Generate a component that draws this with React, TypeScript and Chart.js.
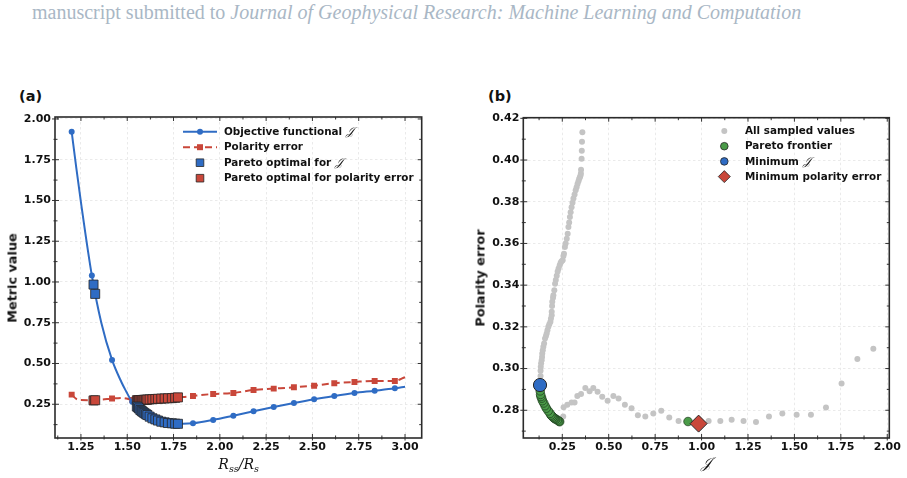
import React, { useEffect, useRef } from 'react';
import { Chart, registerables } from 'chart.js';

Chart.register(...registerables);

// ---------------- Panel (a): metrics versus Rss/Rs ----------------
const ratioX = [1.2, 1.225, 1.25, 1.309, 1.36, 1.418, 1.469, 1.496, 1.514, 1.527, 1.558, 1.6, 1.636, 1.69, 1.745, 1.8, 1.855, 1.964, 2.073, 2.182, 2.291, 2.4, 2.509, 2.618, 2.727, 2.836, 2.945, 3.0];
const objectiveJ = [1.922, 1.70, 1.49, 1.04, 0.75, 0.522, 0.385, 0.325, 0.287, 0.265, 0.234, 0.190, 0.164, 0.145, 0.134, 0.130, 0.133, 0.154, 0.180, 0.207, 0.233, 0.258, 0.281, 0.301, 0.319, 0.333, 0.348, 0.358];
const polarityErr = [0.309, 0.283, 0.276, 0.275, 0.278, 0.285, 0.289, 0.285, 0.280, 0.277, 0.2755, 0.2778, 0.281, 0.2855, 0.289, 0.294, 0.301, 0.313, 0.319, 0.338, 0.346, 0.354, 0.364, 0.379, 0.387, 0.393, 0.393, 0.416];
const markerX = [1.2, 1.309, 1.418, 1.527, 1.636, 1.745, 1.855, 1.964, 2.073, 2.182, 2.291, 2.4, 2.509, 2.618, 2.727, 2.836, 2.945];

const paretoRatio = [1.318, 1.327, 1.552, 1.558, 1.564, 1.571, 1.577, 1.582, 1.588, 1.594, 1.602, 1.609, 1.621, 1.636, 1.652, 1.666, 1.684, 1.702, 1.72, 1.741, 1.759, 1.774];
const paretoJ = [0.984, 0.927, 0.236, 0.231, 0.224, 0.215, 0.210, 0.205, 0.200, 0.195, 0.189, 0.184, 0.174, 0.164, 0.157, 0.150, 0.143, 0.139, 0.135, 0.133, 0.131, 0.130];
const paretoPol = [0.2736, 0.2746, 0.2745, 0.2748, 0.2753, 0.2757, 0.2760, 0.2763, 0.2767, 0.2772, 0.2777, 0.2785, 0.2797, 0.2810, 0.2822, 0.2835, 0.2846, 0.2858, 0.2866, 0.2876, 0.2893, 0.2921];

const xTicksA = [1.25, 1.5, 1.75, 2.0, 2.25, 2.5, 2.75, 3.0];
const yTicksA = [0.25, 0.5, 0.75, 1.0, 1.25, 1.5, 1.75, 2.0];

// ---------------- Panel (b): polarity error versus J ----------------
const sampledJ = [
  1.925, 1.839, 1.754, 1.670, 1.589, 1.512, 1.435, 1.363, 1.293, 1.226, 1.162, 1.101, 1.038, 0.876, 0.826, 0.783, 0.740, 0.697, 0.657, 0.623,
  0.587, 0.553, 0.525, 0.494, 0.465, 0.440, 0.417, 0.397, 0.374, 0.351, 0.331, 0.316, 0.300, 0.277, 0.257, 0.255,
  0.133, 0.133, 0.134, 0.136, 0.139, 0.141, 0.142, 0.145, 0.148, 0.152, 0.157, 0.162, 0.166, 0.170, 0.175, 0.180, 0.186, 0.189, 0.193, 0.193,
  0.195, 0.196, 0.200, 0.202, 0.207, 0.211, 0.215, 0.220, 0.225, 0.230, 0.236, 0.241, 0.246, 0.252, 0.256, 0.259, 0.264, 0.268, 0.274, 0.279,
  0.283, 0.287, 0.291, 0.295, 0.300, 0.305, 0.310, 0.316, 0.322, 0.327, 0.332, 0.337, 0.341, 0.345, 0.348, 0.350, 0.351, 0.354, 0.355, 0.356, 0.358,
];
const sampledPol = [
  0.3095, 0.3046, 0.2928, 0.2813, 0.2778, 0.2778, 0.2784, 0.2770, 0.2744, 0.2749, 0.2755, 0.2749, 0.2749, 0.2749, 0.2765, 0.2798, 0.2784, 0.2770, 0.2776, 0.2810,
  0.2827, 0.2857, 0.2869, 0.2846, 0.2865, 0.2889, 0.2907, 0.2891, 0.2907, 0.2878, 0.2869, 0.2837, 0.2837, 0.2827, 0.2814, 0.2770,
  0.2964, 0.2990, 0.3009, 0.3025, 0.3040, 0.3056, 0.3072, 0.3088, 0.3104, 0.3120, 0.3144, 0.3156, 0.3168, 0.3184, 0.3200, 0.3212, 0.3224, 0.3240, 0.3256, 0.3272,
  0.3300, 0.3320, 0.3340, 0.3352, 0.3376, 0.3407, 0.3425, 0.3445, 0.3465, 0.3480, 0.3495, 0.3508, 0.3515, 0.3520, 0.3540, 0.3551, 0.3583, 0.3600, 0.3623, 0.3647,
  0.3679, 0.3700, 0.3727, 0.3750, 0.3774, 0.3795, 0.3815, 0.3835, 0.3855, 0.3870, 0.3885, 0.3898, 0.3910, 0.3918, 0.3926, 0.3935, 0.3953, 0.4006, 0.4045, 0.4088, 0.4133,
];

const xTicksB = [0.25, 0.5, 0.75, 1.0, 1.25, 1.5, 1.75, 2.0];
const yTicksB = [0.28, 0.30, 0.32, 0.34, 0.36, 0.38, 0.40, 0.42];

// ---------------- styling ----------------
const BLUE = '#2f6cc4';
const RED = '#c9473a';
const GREEN = '#4a9b48';
const GRAY = '#c4c4c4';
const EDGE = '#262626';
const SANS = '"DejaVu Sans", sans-serif';
const MATH = '"DejaVu Serif", "DejaVu Sans", serif';

function drawMarker(ctx: CanvasRenderingContext2D, kind: string, x: number, y: number, size: number, fill: string, edge?: string, edgeW?: number) {
  ctx.beginPath();
  if (kind === 'circle') {
    ctx.arc(x, y, size, 0, Math.PI * 2);
  } else if (kind === 'rect') {
    ctx.rect(x - size, y - size, size * 2, size * 2);
  } else if (kind === 'diamond') {
    ctx.moveTo(x, y - size);
    ctx.lineTo(x + size, y);
    ctx.lineTo(x, y + size);
    ctx.lineTo(x - size, y);
    ctx.closePath();
  }
  ctx.fillStyle = fill;
  ctx.fill();
  if (edge && edgeW) {
    ctx.strokeStyle = edge;
    ctx.lineWidth = edgeW;
    ctx.setLineDash([]);
    ctx.stroke();
  }
}

const framePlugin = {
  id: 'mplFrame',
  afterDatasetsDraw(chart: any, _args: any, opts: any) {
    const { ctx, chartArea: a, scales } = chart;
    const sx = scales.x;
    const sy = scales.y;
    ctx.save();
    ctx.setLineDash([]);
    ctx.strokeStyle = '#333';
    ctx.lineWidth = 1;
    const seg = (x1: number, y1: number, x2: number, y2: number) => {
      ctx.beginPath();
      ctx.moveTo(x1, y1);
      ctx.lineTo(x2, y2);
      ctx.stroke();
    };
    const each = (min: number, max: number, minor: number, major: number, fn: (v: number, isMajor: boolean) => void) => {
      const n0 = Math.ceil(min / minor - 1e-9);
      const n1 = Math.floor(max / minor + 1e-9);
      for (let n = n0; n <= n1; n++) {
        const v = n * minor;
        const r = v / major;
        fn(v, Math.abs(r - Math.round(r)) < 1e-6);
      }
    };
    each(sx.min, sx.max, opts.xMinor, opts.xMajor, (v, M) => {
      const p = sx.getPixelForValue(v);
      const inL = M ? 4 : 2.5;
      const outL = M ? 2.5 : 1.5;
      seg(p, a.bottom + outL, p, a.bottom - inL);
      seg(p, a.top, p, a.top + inL);
    });
    each(sy.min, sy.max, opts.yMinor, opts.yMajor, (v, M) => {
      const p = sy.getPixelForValue(v);
      const inL = M ? 4 : 2.5;
      const outL = M ? 3 : 1.5;
      seg(a.left - outL, p, a.left + inL, p);
      seg(a.right, p, a.right - inL, p);
    });
    ctx.lineWidth = 1.6;
    ctx.strokeStyle = '#2b2b2b';
    ctx.strokeRect(a.left, a.top, a.right - a.left, a.bottom - a.top);
    ctx.restore();
  },
};

const legendPlugin = {
  id: 'mplLegend',
  afterDatasetsDraw(chart: any, _args: any, opts: any) {
    const { ctx, chartArea: a } = chart;
    const items = opts.items || [];
    ctx.save();
    for (let i = 0; i < items.length; i++) {
      const it = items[i];
      const y = a.top + opts.top + i * opts.spacing;
      const hx = a.left + opts.handleX;
      if (it.line) {
        ctx.strokeStyle = it.color;
        ctx.lineWidth = 2;
        ctx.setLineDash(it.dash ? [...it.dash] : []);
        ctx.beginPath();
        ctx.moveTo(hx - opts.handleLen / 2, y);
        ctx.lineTo(hx + opts.handleLen / 2, y);
        ctx.stroke();
        ctx.setLineDash([]);
      }
      drawMarker(ctx, it.marker, hx, y, it.size, it.color, it.edge, it.edgeW);
      ctx.fillStyle = '#111';
      ctx.textAlign = 'left';
      ctx.textBaseline = 'middle';
      ctx.font = `bold ${opts.fontSize}px ${SANS}`;
      const tx = a.left + opts.textX;
      ctx.fillText(it.text, tx, y + 0.5);
      if (it.math) {
        const w = ctx.measureText(it.text).width;
        ctx.font = `italic ${opts.fontSize + 1}px ${MATH}`;
        ctx.fillText(it.math, tx + w, y + 0.5);
      }
    }
    ctx.restore();
  },
};

function axis(min: number, max: number, ticks: number[], fixed: { width?: number; height?: number }, pad: number) {
  return {
    type: 'linear',
    min,
    max,
    afterBuildTicks: (s: any) => {
      s.ticks = ticks.map((v) => ({ value: v }));
    },
    afterFit: (s: any) => {
      if (fixed.width != null) s.width = fixed.width;
      if (fixed.height != null) s.height = fixed.height;
    },
    ticks: {
      callback: (v: any) => Number(v).toFixed(2),
      font: { family: SANS, size: 11, weight: 'bold' },
      color: '#111',
      padding: pad,
      maxRotation: 0,
      autoSkip: false,
    },
    grid: { color: '#e4e4e4', lineWidth: 0.8, drawTicks: false },
    border: { display: false, dash: [2.5, 2.5] },
  };
}

function pts(xs: number[], ys: number[]) {
  return xs.map((x, i) => ({ x, y: ys[i] }));
}

function argMin(arr: number[]) {
  let k = 0;
  for (let i = 1; i < arr.length; i++) if (arr[i] < arr[k]) k = i;
  return k;
}

function makeLeft(canvas: HTMLCanvasElement) {
  return new Chart(canvas, {
    type: 'scatter',
    data: {
      datasets: [
        {
          label: 'Pareto optimal for 𝒥',
          data: pts(paretoRatio, paretoJ),
          pointStyle: 'rect',
          pointRadius: 6.4,
          backgroundColor: BLUE,
          borderColor: EDGE,
          borderWidth: 0.8,
          order: 0,
        },
        {
          label: 'Pareto optimal for polarity error',
          data: pts(paretoRatio, paretoPol),
          pointStyle: 'rect',
          pointRadius: 6.4,
          backgroundColor: RED,
          borderColor: EDGE,
          borderWidth: 0.8,
          order: 1,
        },
        {
          label: 'Objective functional 𝒥',
          data: pts(ratioX, objectiveJ),
          showLine: true,
          borderColor: BLUE,
          borderWidth: 2,
          cubicInterpolationMode: 'monotone',
          pointStyle: 'circle',
          pointRadius: (c: any) => (markerX.includes(ratioX[c.dataIndex]) ? 3 : 0),
          pointBackgroundColor: BLUE,
          pointBorderWidth: 0,
          order: 2,
        },
        {
          label: 'Polarity error',
          data: pts(ratioX, polarityErr),
          showLine: true,
          borderColor: RED,
          borderWidth: 2,
          borderDash: [7, 4],
          cubicInterpolationMode: 'monotone',
          pointStyle: 'rect',
          pointRadius: (c: any) => (markerX.includes(ratioX[c.dataIndex]) ? 4.2 : 0),
          pointBackgroundColor: RED,
          pointBorderWidth: 0,
          order: 3,
        },
      ],
    } as any,
    options: {
      responsive: false,
      animation: false,
      devicePixelRatio: 1,
      events: [],
      layout: { padding: { left: 0, top: 17, right: 28.3, bottom: 0 } },
      plugins: {
        legend: { display: false },
        tooltip: { enabled: false },
        mplFrame: { xMajor: 0.25, xMinor: 0.125, yMajor: 0.25, yMinor: 0.125 },
        mplLegend: {
          top: 14.7,
          spacing: 15.5,
          handleX: 145,
          handleLen: 34,
          textX: 169,
          fontSize: 10.4,
          items: [
            { line: true, color: BLUE, marker: 'circle', size: 3, text: 'Objective functional ', math: '𝒥' },
            { line: true, color: RED, dash: [7, 4], marker: 'rect', size: 3, text: 'Polarity error' },
            { line: false, color: BLUE, marker: 'rect', size: 3.8, edge: EDGE, edgeW: 0.8, text: 'Pareto optimal for ', math: '𝒥' },
            { line: false, color: RED, marker: 'rect', size: 3.8, edge: EDGE, edgeW: 0.8, text: 'Pareto optimal for polarity error' },
          ],
        },
      },
      scales: {
        x: axis(1.11, 3.09, xTicksA, { height: 40 }, 3),
        y: axis(0.043, 2.012, yTicksA, { width: 55 }, 4),
      },
    } as any,
    plugins: [framePlugin, legendPlugin],
  });
}

function makeRight(canvas: HTMLCanvasElement) {
  const iMinJ = argMin(paretoJ);
  const iMinP = argMin(paretoPol);
  return new Chart(canvas, {
    type: 'scatter',
    data: {
      datasets: [
        {
          label: 'Minimum polarity error',
          data: [{ x: paretoJ[iMinP], y: paretoPol[iMinP] }],
          pointStyle: 'rectRot',
          pointRadius: 8.5,
          backgroundColor: RED,
          borderColor: EDGE,
          borderWidth: 1,
          order: 0,
        },
        {
          label: 'Minimum 𝒥',
          data: [{ x: paretoJ[iMinJ], y: paretoPol[iMinJ] }],
          pointStyle: 'circle',
          pointRadius: 6.6,
          backgroundColor: BLUE,
          borderColor: EDGE,
          borderWidth: 1,
          order: 1,
        },
        {
          label: 'Pareto frontier',
          data: pts(paretoJ, paretoPol),
          pointStyle: 'circle',
          pointRadius: 4.3,
          backgroundColor: GREEN,
          borderColor: '#1e3a1e',
          borderWidth: 0.7,
          order: 2,
        },
        {
          label: 'All sampled values',
          data: pts(sampledJ, sampledPol).concat(pts(paretoJ, paretoPol)),
          pointStyle: 'circle',
          pointRadius: 3,
          backgroundColor: GRAY,
          borderWidth: 0,
          order: 3,
        },
      ],
    } as any,
    options: {
      responsive: false,
      animation: false,
      devicePixelRatio: 1,
      events: [],
      layout: { padding: { left: 0, top: 17.7, right: 17.7, bottom: 0 } },
      plugins: {
        legend: { display: false },
        tooltip: { enabled: false },
        mplFrame: { xMajor: 0.25, xMinor: 0.125, yMajor: 0.02, yMinor: 0.01 },
        mplLegend: {
          top: 13.3,
          spacing: 15.2,
          handleX: 201,
          handleLen: 0,
          textX: 221.7,
          fontSize: 10.4,
          items: [
            { line: false, color: GRAY, marker: 'circle', size: 3, text: 'All sampled values' },
            { line: false, color: GREEN, marker: 'circle', size: 3.8, edge: EDGE, edgeW: 0.8, text: 'Pareto frontier' },
            { line: false, color: BLUE, marker: 'circle', size: 3.8, edge: EDGE, edgeW: 0.8, text: 'Minimum ', math: '𝒥' },
            { line: false, color: RED, marker: 'diamond', size: 6, edge: EDGE, edgeW: 0.8, text: 'Minimum polarity error' },
          ],
        },
      },
      scales: {
        x: axis(0.04, 2.011, xTicksB, { height: 40 }, 3),
        y: axis(0.2667, 0.4203, yTicksB, { width: 70.3 }, 4),
      },
    } as any,
    plugins: [framePlugin, legendPlugin],
  });
}

const abs = (o: any): React.CSSProperties => ({ position: 'absolute', whiteSpace: 'nowrap', ...o });

export default function App() {
  const leftRef = useRef<HTMLCanvasElement>(null);
  const rightRef = useRef<HTMLCanvasElement>(null);

  useEffect(() => {
    const c1 = makeLeft(leftRef.current!);
    const c2 = makeRight(rightRef.current!);
    return () => {
      c1.destroy();
      c2.destroy();
    };
  }, []);

  const yTitle = { fontFamily: SANS, fontWeight: 'bold', fontSize: 12.8, color: '#111' };
  return (
    <div style={{ position: 'absolute', left: 0, top: 0, width: 907, height: 478, background: '#fff', overflow: 'hidden' }}>
      <div style={abs({ left: 32, top: 1, fontFamily: '"Liberation Serif", serif', fontSize: 20, color: '#a9b7c5' })}>
        manuscript submitted to <i>Journal of Geophysical Research: Machine Learning and Computation</i>
      </div>
      <div style={abs({ left: 19, top: 88, fontFamily: SANS, fontWeight: 'bold', fontSize: 14.5, color: '#111' })}>(a)</div>
      <div style={abs({ left: 488, top: 88, fontFamily: SANS, fontWeight: 'bold', fontSize: 14.5, color: '#111' })}>(b)</div>

      <canvas ref={leftRef} width={450} height={378} style={{ position: 'absolute', left: 0, top: 100, width: 450, height: 378 }} />
      <canvas ref={rightRef} width={454} height={378} style={{ position: 'absolute', left: 453, top: 100, width: 454, height: 378 }} />

      <div style={abs({ left: 11.7, top: 277.5, transform: 'translate(-50%, -50%) rotate(-90deg)', ...yTitle })}>Metric value</div>
      <div style={abs({ left: 480, top: 277.5, transform: 'translate(-50%, -50%) rotate(-90deg)', ...yTitle })}>Polarity error</div>

      <div style={abs({ left: 238.6, top: 465, transform: 'translate(-50%, -50%)', fontFamily: MATH, fontStyle: 'italic', fontSize: 14, color: '#111' })}>
        R<sub style={{ fontSize: 9.5 }}>ss</sub>/R<sub style={{ fontSize: 9.5 }}>s</sub>
      </div>
      <div style={abs({ left: 706, top: 463, transform: 'translate(-50%, -50%)', fontFamily: MATH, fontStyle: 'italic', fontSize: 15, color: '#111' })}>𝒥</div>
    </div>
  );
}
